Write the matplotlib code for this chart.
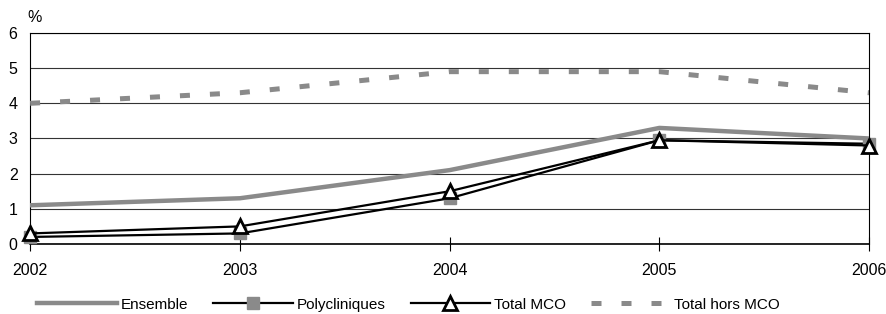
import matplotlib
matplotlib.use("Agg")
import matplotlib.pyplot as plt

plt.rcParams['font.family'] = ['Liberation Sans', 'DejaVu Sans']

years = [2002, 2003, 2004, 2005, 2006]
ensemble = [1.1, 1.3, 2.1, 3.3, 3.0]
polycliniques = [0.2, 0.3, 1.3, 2.95, 2.85]
total_mco = [0.3, 0.5, 1.5, 2.95, 2.8]
total_hors_mco = [4.0, 4.3, 4.9, 4.9, 4.3]

fig = plt.figure(figsize=(8.86, 3.14), dpi=100)
ax = fig.add_axes([0.034, 0.223, 0.947, 0.672])

gray = "#8a8a8a"
ax.plot(years, ensemble, color=gray, lw=3.2, label="Ensemble", zorder=3)
ax.plot(years, polycliniques, color="black", lw=1.6, marker="s", ms=8,
        mfc=gray, mec=gray, label="Polycliniques", zorder=4, clip_on=False)
ax.plot(years, total_mco, color="black", lw=1.6, marker="^", ms=10,
        mfc="white", mec="black", mew=2, label="Total MCO", zorder=5, clip_on=False)
ax.plot(years, total_hors_mco, color=gray, lw=3.6, dashes=(2, 4),
        dash_capstyle="butt", label="Total hors MCO", zorder=3)

ax.set_xlim(2002, 2006)
ax.set_ylim(0, 6)
ax.set_xticks(years)
ax.set_yticks(range(0, 7))
ax.grid(axis="y", color="#333333", lw=0.8)
ax.set_axisbelow(True)
for s in ax.spines.values():
    s.set_linewidth(0.8)
ax.spines["bottom"].set_linewidth(1.2)
ax.tick_params(axis="y", length=0, labelsize=11.5, pad=9)
ax.tick_params(axis="x", direction="inout", length=10, labelsize=11.5, pad=9)

fig.text(0.031, 0.943, "%", fontsize=11.5, ha="left", va="center")

fig.legend(loc="center left", bbox_to_anchor=(0.042, 0.03), ncol=4, frameon=False,
           fontsize=11, handlelength=5.2, handletextpad=0.25, columnspacing=1.65,
           borderpad=0, borderaxespad=0)

fig.savefig("out.png", dpi=100)
